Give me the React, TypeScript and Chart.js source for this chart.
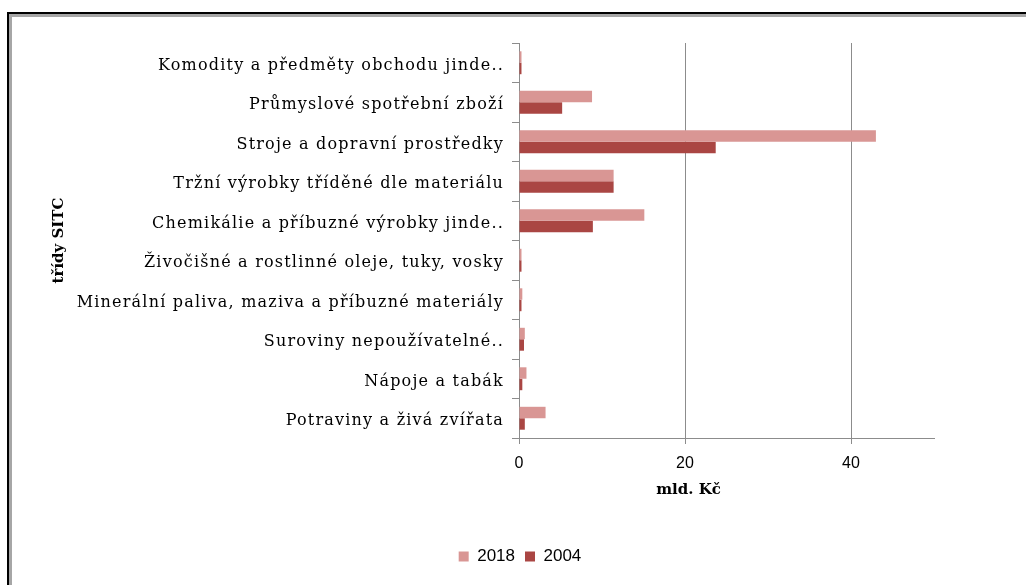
import React, { useEffect, useRef } from "react";
import { Chart, registerables } from "chart.js";

Chart.register(...registerables);

const categories = [
  "Komodity a předměty obchodu jinde..",
  "Průmyslové spotřební zboží",
  "Stroje a dopravní prostředky",
  "Tržní výrobky tříděné dle materiálu",
  "Chemikálie a příbuzné výrobky jinde..",
  "Živočišné a rostlinné oleje, tuky, vosky",
  "Minerální paliva, maziva a příbuzné materiály",
  "Suroviny nepoužívatelné..",
  "Nápoje a tabák",
  "Potraviny a živá zvířata",
];
const values2018 = [0.3, 8.8, 43.0, 11.4, 15.1, 0.3, 0.4, 0.7, 0.9, 3.2];
const values2004 = [0.3, 5.2, 23.7, 11.4, 8.9, 0.3, 0.3, 0.6, 0.4, 0.7];
const seriesLabels = ["2018", "2004"];
const xMin = 0;
const xMax = 50;
const xStep = 20;
const xTitle = "mld. Kč";
const yTitle = "třídy SITC";

const GRID = "#8c8c8c";

const patchPlugin = {
  id: "textTweaks",
  beforeDraw(chart: any) {
    const y = chart.scales.y;
    const x = chart.scales.x;
    const ctx = chart.ctx;
    if (y && !y.__patched) {
      const origLabels = y.drawLabels.bind(y);
      y.drawLabels = (area: any) => {
        ctx.save();
        ctx.letterSpacing = "1.2px";
        origLabels(area);
        ctx.restore();
      };
      y.__patched = true;
    }
    if (x && !x.__patched) {
      const origTitle = x.drawTitle.bind(x);
      x.drawTitle = () => {
        ctx.save();
        ctx.translate(-38, 0);
        origTitle();
        ctx.restore();
      };
      x.__patched = true;
    }
  },
};

export default function App() {
  const ref = useRef<HTMLCanvasElement | null>(null);

  useEffect(() => {
    if (!ref.current) return;
    const chart = new Chart(ref.current, {
      type: "bar",
      data: {
        labels: categories,
        datasets: [
          {
            label: seriesLabels[0],
            data: values2018,
            backgroundColor: "#d99694",
            borderWidth: 0,
          },
          {
            label: seriesLabels[1],
            data: values2004,
            backgroundColor: "#aa4643",
            borderWidth: 0,
          },
        ],
      },
      plugins: [patchPlugin],
      options: {
        indexAxis: "y",
        animation: false,
        responsive: false,
        devicePixelRatio: 1,
        datasets: {
          bar: { categoryPercentage: 0.58, barPercentage: 1.0 },
        },
        layout: { padding: { left: 50, top: 43, right: 36, bottom: 10 } },
        plugins: {
          tooltip: { enabled: false },
          legend: {
            position: "bottom",
            labels: {
              boxWidth: 10,
              boxHeight: 10,
              padding: 10,
              color: "#000",
              font: { family: "'Liberation Sans', Arial, sans-serif", size: 17 },
            },
          },
        },
        scales: {
          x: {
            type: "linear",
            min: xMin,
            max: xMax,
            afterFit: (s: any) => {
              s.height = 100;
            },
            ticks: {
              stepSize: xStep,
              includeBounds: false,
              color: "#000",
              padding: 10,
              font: { family: "'Liberation Sans', Arial, sans-serif", size: 16 },
            },
            grid: {
              color: GRID,
              lineWidth: 1,
              drawTicks: true,
              tickLength: 6,
            },
            border: { display: true, color: GRID, width: 1 },
            title: {
              display: true,
              text: xTitle,
              color: "#000",
              padding: { top: 0, bottom: 39 },
              font: { family: "'DejaVu Serif', serif", size: 15, weight: "bold" },
            },
          },
          y: {
            type: "category",
            afterFit: (s: any) => {
              s.width = 519 - 50;
            },
            ticks: {
              color: "#000",
              padding: 8,
              labelOffset: 3,
              autoSkip: false,
              font: { family: "'DejaVu Serif', serif", size: 16 },
            },
            grid: {
              offset: true,
              drawOnChartArea: false,
              drawTicks: true,
              tickLength: 7,
              color: GRID,
            },
            border: { display: true, color: GRID, width: 1 },
            title: {
              display: true,
              text: yTitle,
              color: "#000",
              padding: { top: 0, bottom: 0 },
              font: { family: "'DejaVu Serif', serif", size: 15, weight: "bold" },
            },
          },
          spacer: {
            type: "linear",
            position: "right",
            afterFit: (s: any) => {
              s.width = 1026 - 36 - 934;
            },
            grid: { display: false },
            ticks: { display: false },
            border: { display: false },
          },
        },
      },
    });
    return () => chart.destroy();
  }, []);

  return (
    <div
      style={{
        position: "fixed",
        left: 0,
        top: 0,
        width: 1026,
        height: 585,
        overflow: "hidden",
        background: "#fff",
      }}
    >
      <div
        style={{
          position: "absolute",
          left: 7,
          top: 12,
          width: 1300,
          height: 900,
          borderLeft: "2px solid #000",
          borderTop: "2px solid #000",
          boxShadow: "inset 3px 3px 0 #a6a6a6",
        }}
      />
      <canvas
        ref={ref}
        width={1026}
        height={585}
        style={{ position: "absolute", left: 0, top: 0, width: 1026, height: 585 }}
      />
    </div>
  );
}
